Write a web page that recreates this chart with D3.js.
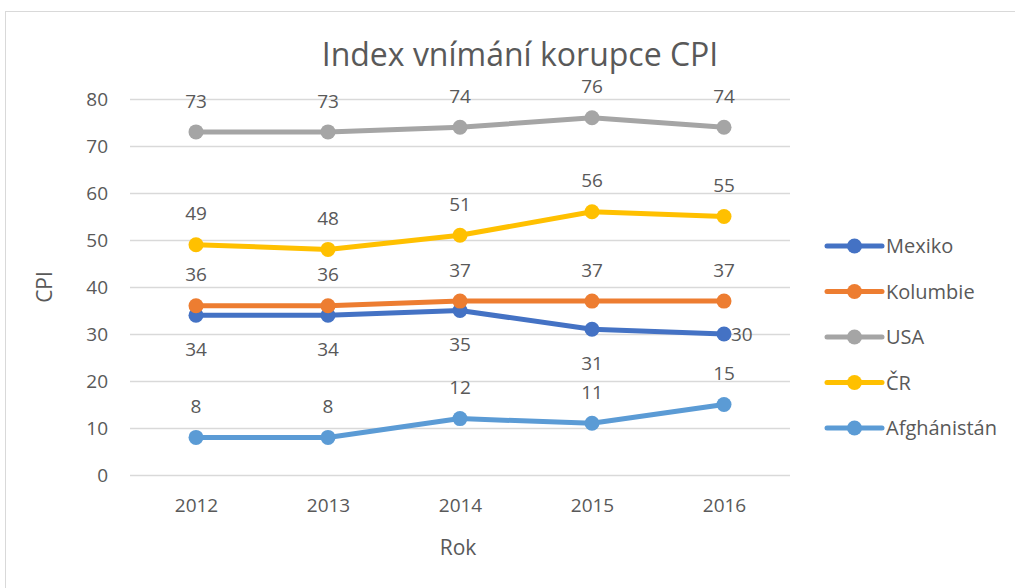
<!DOCTYPE html>
<html>
<head>
<meta charset="utf-8">
<script src="https://cdn.jsdelivr.net/npm/d3@7"></script>
<style>
  body { margin: 0; background: #fff; }
  text { font-family: "Open Sans", sans-serif; fill: #595959; }
</style>
</head>
<body>
<div id="viz"></div>
<script>
const width = 1015
const height = 588

// data
const years = ["2012", "2013", "2014", "2015", "2016"]
const seriesNames = ["Mexiko", "Kolumbie", "USA", "ČR", "Afghánistán"]
const mexiko = [34, 34, 35, 31, 30]
const kolumbie = [36, 36, 37, 37, 37]
const usa = [73, 73, 74, 76, 74]
const cr = [49, 48, 51, 56, 55]
const afghanistan = [8, 8, 12, 11, 15]
const yTicks = [0, 10, 20, 30, 40, 50, 60, 70, 80]

const colors = ["#4472c4", "#ed7d31", "#a5a5a5", "#ffc000", "#5b9bd5"]
const seriesValues = [mexiko, kolumbie, usa, cr, afghanistan]
// where each series puts its data labels
const labelSides = [
    ["below", "below", "below", "below", "right"],
    ["above", "above", "above", "above", "above"],
    ["above", "above", "above", "above", "above"],
    ["above", "above", "above", "above", "above"],
    ["above", "above", "above", "above", "above"]
]

const svg = d3.select("#viz").append("svg").attr("width", width).attr("height", height)

svg.append("rect").attr("x", 5.5).attr("y", 11.5).attr("width", 1030).attr("height", 600)
    .attr("fill", "#fff").attr("stroke", "#d9d9d9").attr("stroke-width", 1)

const plot = {left: 130, right: 790, top: 99, bottom: 475}

const xScale = d3.scalePoint().domain(years).range([plot.left, plot.right]).padding(0.5)
const yScale = d3.scaleLinear().domain([0, 80]).range([plot.bottom, plot.top])

// title
svg.append("text").attr("x", 520).attr("y", 66).attr("text-anchor", "middle")
    .attr("font-size", 32).text("Index vnímání korupce CPI")

// gridlines
const grid = svg.append("g")
grid.selectAll("line").data(yTicks).enter().append("line")
    .attr("x1", plot.left).attr("x2", plot.right)
    .attr("y1", d => yScale(d) + 0.5).attr("y2", d => yScale(d) + 0.5)
    .attr("stroke", "#d9d9d9").attr("stroke-width", 1.3)

// axes
const yAxis = d3.axisLeft(yScale).tickValues(yTicks).tickSize(0).tickPadding(22)
const yAxisGroup = svg.append("g").attr("transform", `translate(${plot.left}, 0)`).call(yAxis)
yAxisGroup.select(".domain").remove()
yAxisGroup.selectAll("text").attr("font-size", 19).attr("fill", "#595959").attr("font-family", "Open Sans")

const xAxis = d3.axisBottom(xScale).tickSize(0).tickPadding(24)
const xAxisGroup = svg.append("g").attr("transform", `translate(0, ${plot.bottom})`).call(xAxis)
xAxisGroup.select(".domain").remove()
xAxisGroup.selectAll("text").attr("font-size", 19).attr("fill", "#595959").attr("font-family", "Open Sans")

// axis titles
svg.append("text").attr("x", 458).attr("y", 555).attr("text-anchor", "middle").attr("font-size", 21).text("Rok")
svg.append("text").attr("transform", `translate(52, 287) rotate(-90)`).attr("text-anchor", "middle")
    .attr("font-size", 21).text("CPI")

// lines and markers
const line = d3.line().x((d, i) => xScale(years[i])).y(d => yScale(d))
const seriesGroup = svg.append("g")
seriesValues.forEach((vals, s) => {
    const g = seriesGroup.append("g")
    g.append("path").attr("d", line(vals)).attr("fill", "none")
        .attr("stroke", colors[s]).attr("stroke-width", 5).attr("stroke-linejoin", "round").attr("stroke-linecap", "round")
    g.selectAll("circle").data(vals).enter().append("circle")
        .attr("cx", (d, i) => xScale(years[i])).attr("cy", d => yScale(d)).attr("r", 7.5)
        .attr("fill", colors[s])
})

// data labels
const labelGroup = svg.append("g")
seriesValues.forEach((vals, s) => {
    labelGroup.selectAll(null).data(vals).enter().append("text")
        .attr("font-size", 19)
        .attr("text-anchor", (d, i) => labelSides[s][i] == "right" ? "start" : "middle")
        .attr("x", (d, i) => labelSides[s][i] == "right" ? xScale(years[i]) + 7 : xScale(years[i]))
        .attr("y", (d, i) => {
            const side = labelSides[s][i]
            const y = yScale(d)
            return side == "above" ? y - 31 : side == "below" ? y + 34 : y
        })
        .attr("dy", "0.35em")
        .text(d => d)
})

// legend
const legend = svg.append("g").attr("transform", "translate(827, 246)")
const legendItems = legend.selectAll("g").data(seriesNames).enter().append("g")
    .attr("transform", (d, i) => `translate(0, ${i * 45.5})`)
legendItems.append("line").attr("x1", 0).attr("x2", 55).attr("y1", 0).attr("y2", 0)
    .attr("stroke", (d, i) => colors[i]).attr("stroke-width", 5).attr("stroke-linecap", "round")
legendItems.append("circle").attr("cx", 27.5).attr("cy", 0).attr("r", 7.5).attr("fill", (d, i) => colors[i])
legendItems.append("text").attr("x", 59).attr("y", 0).attr("dy", "0.35em").attr("font-size", 20).text(d => d)
</script>
</body>
</html>
